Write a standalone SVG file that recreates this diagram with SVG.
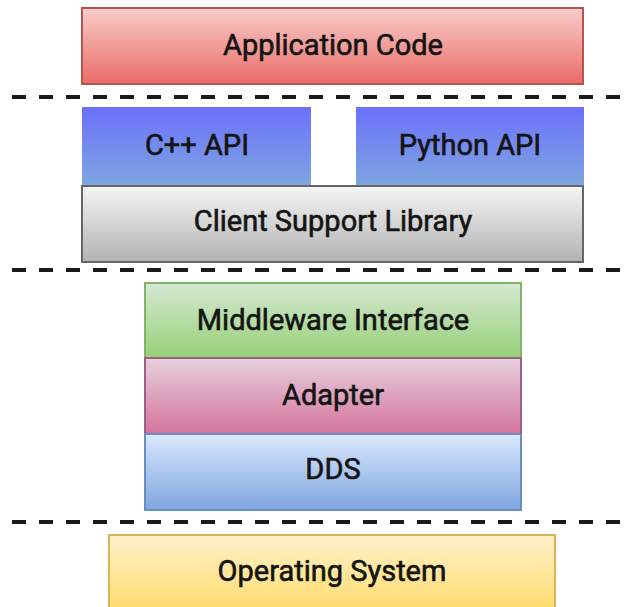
<svg xmlns="http://www.w3.org/2000/svg" width="640" height="607" viewBox="0 0 640 607">
  <defs>
    <linearGradient id="gRed" x1="0" y1="0" x2="0" y2="1">
      <stop offset="0" stop-color="#f8cecc"/>
      <stop offset="1" stop-color="#ea6b66"/>
    </linearGradient>
    <linearGradient id="gBlue" x1="0" y1="0" x2="0" y2="1">
      <stop offset="0" stop-color="#6c70fb"/>
      <stop offset="1" stop-color="#7ea6e0"/>
    </linearGradient>
    <linearGradient id="gGray" x1="0" y1="0" x2="0" y2="1">
      <stop offset="0" stop-color="#f5f5f5"/>
      <stop offset="1" stop-color="#b3b3b3"/>
    </linearGradient>
    <linearGradient id="gGreen" x1="0" y1="0" x2="0" y2="1">
      <stop offset="0" stop-color="#d5e8d4"/>
      <stop offset="1" stop-color="#97d077"/>
    </linearGradient>
    <linearGradient id="gPink" x1="0" y1="0" x2="0" y2="1">
      <stop offset="0" stop-color="#e6d0de"/>
      <stop offset="1" stop-color="#d5739d"/>
    </linearGradient>
    <linearGradient id="gSky" x1="0" y1="0" x2="0" y2="1">
      <stop offset="0" stop-color="#dae8fc"/>
      <stop offset="1" stop-color="#7ea6e0"/>
    </linearGradient>
    <linearGradient id="gYellow" x1="0" y1="0" x2="0" y2="1">
      <stop offset="0" stop-color="#fff2cc"/>
      <stop offset="1" stop-color="#ffd966"/>
    </linearGradient>
  </defs>
  <style>
    .box { stroke-width: 2; }
    .lbl { font-family: Roboto, "Liberation Sans", sans-serif; font-size: 29px; fill: #141414; text-anchor: middle; dominant-baseline: central; stroke: #141414; stroke-width: 0.6; }
    .sep { stroke: #1a1a1a; stroke-width: 4; stroke-dasharray: 14 13; fill: none; }
  </style>

  <!-- layer separators -->
  <g id="separators">
    <line class="sep" x1="12" y1="97" x2="632" y2="97"/>
    <line class="sep" x1="12" y1="270" x2="632" y2="270"/>
    <line class="sep" x1="12" y1="522" x2="632" y2="522"/>
  </g>

  <g id="app-code">
    <rect class="box" x="82" y="8" width="501" height="76" fill="url(#gRed)" stroke="#b85450"/>
    <text class="lbl" x="333" y="45">Application Code</text>
  </g>

  <g id="client-support">
    <rect class="box" x="82" y="186" width="501" height="76" fill="url(#gGray)" stroke="#666666"/>
    <text class="lbl" x="333" y="221">Client Support Library</text>
  </g>

  <g id="cpp-api">
    <rect x="82" y="107" width="229" height="78" fill="url(#gBlue)"/>
    <text class="lbl" x="197" y="145">C++ API</text>
  </g>

  <g id="python-api">
    <rect x="356" y="107" width="228" height="78" fill="url(#gBlue)"/>
    <text class="lbl" x="470" y="145">Python API</text>
  </g>

  <g id="middleware">
    <rect class="box" x="145" y="283" width="376" height="75" fill="url(#gGreen)" stroke="#82b366"/>
    <text class="lbl" x="333" y="320">Middleware Interface</text>
  </g>

  <g id="adapter">
    <rect class="box" x="145" y="358" width="376" height="76" fill="url(#gPink)" stroke="#996185"/>
    <text class="lbl" x="333" y="395">Adapter</text>
  </g>

  <g id="dds">
    <rect class="box" x="145" y="434" width="376" height="76" fill="url(#gSky)" stroke="#6c8ebf"/>
    <text class="lbl" x="333" y="469">DDS</text>
  </g>

  <g id="os">
    <rect class="box" x="109" y="535" width="446" height="80" fill="url(#gYellow)" stroke="#d6b656"/>
    <text class="lbl" x="332" y="571">Operating System</text>
  </g>

  <g id="connectors"/>
</svg>
